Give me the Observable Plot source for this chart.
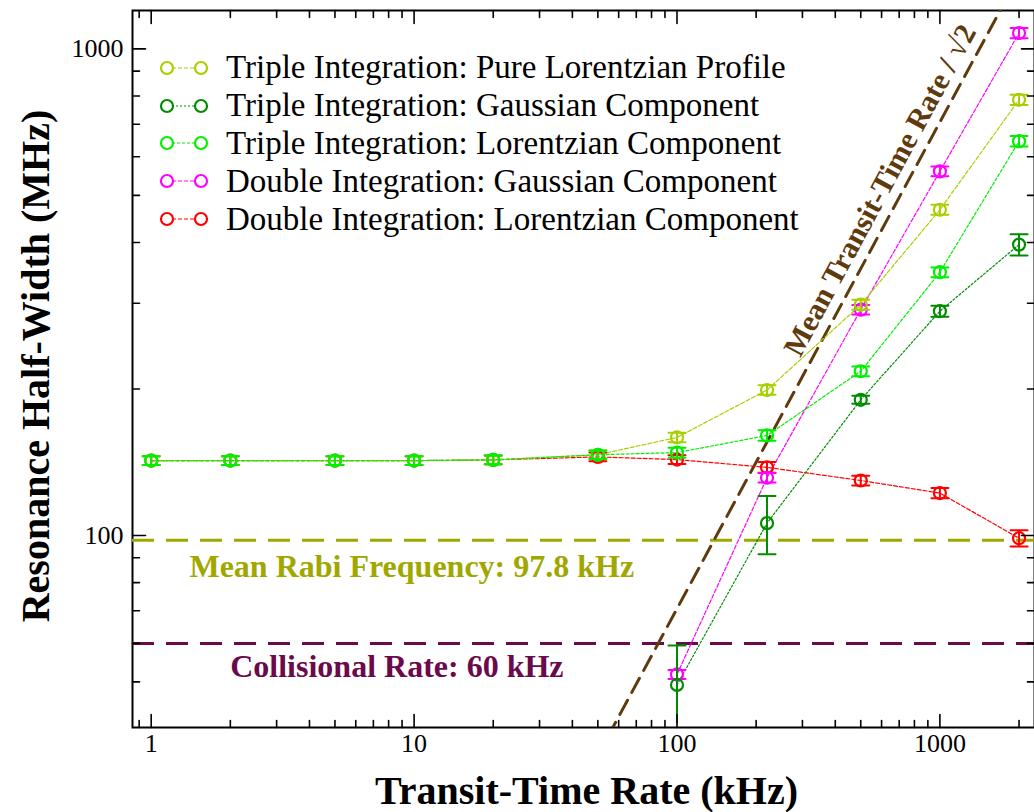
<!DOCTYPE html>
<html>
<head>
<meta charset="utf-8">
<script src="https://cdn.jsdelivr.net/npm/d3@7"></script>
<script src="https://cdn.jsdelivr.net/npm/@observablehq/plot@0.6"></script>
<style>
  html, body { margin: 0; padding: 0; background: #fff; }
  #wrap { position: relative; width: 1034px; height: 812px; overflow: hidden; font-family: "Liberation Serif", "DejaVu Serif", serif; }
  #legend { position: absolute; left: 158px; top: 49px; }
  .row { display: flex; align-items: center; height: 37.8px; font-size: 33px; color: #000; white-space: nowrap; }
  .row svg { margin-right: 14px; }
</style>
</head>
<body>
<div id="wrap"><div id="chart"></div><div id="legend"></div></div>
<script>
// ---- data ----
const rateAll = [1, 2, 5, 10, 20, 50, 100, 220, 500, 1000, 2000];
const rateHigh = [100, 220, 500, 1000, 2000];

const tripPureLor    = [142.5, 142.5, 142.5, 142.5, 143, 146.5, 159, 199, 298, 467, 786];
const tripPureLorErr = [3, 3, 3, 3, 3, 3, 3.5, 4.5, 7, 11, 19];
const tripGauss      = [49.3, 106, 190, 289, 396];
const tripGaussErr   = [10.1, 14.5, 3.6, 7.6, 20];
const tripLor        = [142.5, 142.5, 142.5, 142.5, 143, 146.5, 148, 160.5, 217.5, 347.5, 646];
const tripLorErr     = [3, 3, 3, 3, 3, 3, 3.5, 4, 5, 8, 16];
const dblGauss       = [51.8, 131.4, 291, 560, 1078];
const dblGaussErr    = [1.1, 3, 6.5, 13, 26];
const dblLor         = [142.5, 142.5, 142.5, 142.5, 143, 145, 143.2, 138, 129.7, 122.2, 98.7];
const dblLorErr      = [3, 3, 3, 3, 3, 3, 3, 3.5, 3, 3, 3.8];

const seriesNames = [
  "Triple Integration: Pure Lorentzian Profile",
  "Triple Integration: Gaussian Component",
  "Triple Integration: Lorentzian Component",
  "Double Integration: Gaussian Component",
  "Double Integration: Lorentzian Component"
];
const seriesColors = ["#a8d000", "#008c00", "#00f000", "#ff00ff", "#ff0000"];
const seriesDash = ["4,2", "2,2", "3,2", "4,2", "4,2"];

const rabiRate = 97.8;
const collisionRate = 60;
const transitX = [40, 2400];

const xMajor = [1, 10, 100, 1000];
const xMinor = [0.9, 2, 3, 4, 5, 6, 7, 8, 9, 20, 30, 40, 50, 60, 70, 80, 90, 200, 300, 400, 500, 600, 700, 800, 900, 2000];
const yMajor = [100, 1000];
const yMinor = [50, 60, 70, 80, 90, 200, 300, 400, 500, 600, 700, 800, 900];

// annotation anchor positions (data coordinates)
const rabiLabelPos = {x: 9.8, y: 86.3, text: "Mean Rabi Frequency: 97.8 kHz"};
const collLabelPos = {x: 8.6, y: 53.6, text: "Collisional Rate: 60 kHz"};
const transitLabelPos = {x: 592, y: 512, text: "Mean Transit-Time Rate / \u221A2"};

// ---- build table ----
function mk(name, xs, ys, es) {
  return xs.map((x, i) => ({series: name, x, y: ys[i], lo: ys[i] - es[i], hi: ys[i] + es[i]}));
}
const groups = [
  mk(seriesNames[4], rateAll, dblLor, dblLorErr),
  mk(seriesNames[3], rateHigh, dblGauss, dblGaussErr),
  mk(seriesNames[1], rateHigh, tripGauss, tripGaussErr),
  mk(seriesNames[0], rateAll, tripPureLor, tripPureLorErr),
  mk(seriesNames[2], rateAll, tripLor, tripLorErr)
];
const colorOf = n => seriesColors[seriesNames.indexOf(n)];
const dashOf = n => seriesDash[seriesNames.indexOf(n)];

const lineShape = {draw(ctx, l) { ctx.moveTo(0, 0); ctx.lineTo(0, -l); }};

const marks = [];
marks.push(Plot.frame({stroke: "black", strokeWidth: 2}));

// reference lines
marks.push(Plot.ruleY([rabiRate], {stroke: "#a0a800", strokeWidth: 3, strokeDasharray: "22,12"}));
marks.push(Plot.ruleY([collisionRate], {stroke: "#6b0a4a", strokeWidth: 3, strokeDasharray: "22,12"}));
marks.push(Plot.line(transitX.map(x => ({x, y: x / Math.SQRT2})), {x: "x", y: "y", stroke: "#5e3a0c", strokeWidth: 3, strokeDasharray: "16,9", clip: true}));

// series
for (const g of groups) {
  const c = colorOf(g[0].series);
  marks.push(Plot.line(g, {x: "x", y: "y", stroke: c, strokeWidth: 1.2, strokeDasharray: dashOf(g[0].series)}));
}
for (const g of groups) {
  const c = colorOf(g[0].series);
  marks.push(Plot.ruleX(g, {x: "x", y1: d => Math.max(d.lo, 41), y2: "hi", stroke: c, strokeWidth: 2}));
  marks.push(Plot.vector(g, {x: "x", y: "hi", length: 17, rotate: 90, anchor: "middle", shape: lineShape, stroke: c, strokeWidth: 2}));
  marks.push(Plot.vector(g.filter(d => d.lo > 41), {x: "x", y: "lo", length: 17, rotate: 90, anchor: "middle", shape: lineShape, stroke: c, strokeWidth: 2}));
  marks.push(Plot.dot(g, {x: "x", y: "y", r: 6, stroke: c, strokeWidth: 2.2, fill: "none"}));
}

// annotations
marks.push(Plot.text([rabiLabelPos], {x: "x", y: "y", text: "text", fill: "#a0a800", fontSize: 32, fontWeight: "bold"}));
marks.push(Plot.text([collLabelPos], {x: "x", y: "y", text: "text", fill: "#6b0a4a", fontSize: 32, fontWeight: "bold"}));
marks.push(Plot.text([transitLabelPos], {x: "x", y: "y", text: "text", fill: "#5e3a0c", fontSize: 30, fontWeight: "bold", rotate: -61.6}));

// inward ticks
const tk = (data, opts) => Plot.vector(data, {...opts, anchor: "start", shape: lineShape, stroke: "black", strokeWidth: 1.6});
marks.push(tk(xMajor, {x: d => d, frameAnchor: "bottom", length: 13, rotate: 0}));
marks.push(tk(xMinor, {x: d => d, frameAnchor: "bottom", length: 7, rotate: 0}));
marks.push(tk(xMajor, {x: d => d, frameAnchor: "top", length: 13, rotate: 180}));
marks.push(tk(xMinor, {x: d => d, frameAnchor: "top", length: 7, rotate: 180}));
marks.push(tk(yMajor, {y: d => d, frameAnchor: "left", length: 13, rotate: 90}));
marks.push(tk(yMinor, {y: d => d, frameAnchor: "left", length: 7, rotate: 90}));
marks.push(tk(yMajor, {y: d => d, frameAnchor: "right", length: 13, rotate: -90}));
marks.push(tk(yMinor, {y: d => d, frameAnchor: "right", length: 7, rotate: -90}));

// tick labels
marks.push(Plot.axisX({ticks: xMajor, tickSize: 0, tickPadding: 6, tickFormat: d => String(d), fontSize: 26, label: null}));
marks.push(Plot.axisY({ticks: yMajor, tickSize: 0, tickPadding: 9, tickFormat: d => String(d), fontSize: 26, label: null}));

// axis titles
marks.push(Plot.text(["Transit-Time Rate (kHz)"], {frameAnchor: "bottom", lineAnchor: "middle", textAnchor: "middle", dx: 3, dy: 64, fontSize: 40, fontWeight: "bold", fill: "black"}));
marks.push(Plot.text(["Resonance Half-Width (MHz)"], {frameAnchor: "left", lineAnchor: "middle", textAnchor: "middle", dx: -96, dy: -3, rotate: -90, fontSize: 40, fontWeight: "bold", fill: "black"}));

const chart = Plot.plot({
  width: 1034,
  height: 812,
  marginLeft: 132,
  marginRight: 0,
  marginTop: 10,
  marginBottom: 85,
  style: {fontFamily: "'Liberation Serif', 'DejaVu Serif', serif", background: "white", color: "black", overflow: "visible"},
  x: {type: "log", domain: [0.849, 2290]},
  y: {type: "log", domain: [40.3, 1199]},
  marks
});
document.getElementById("chart").appendChild(chart);

// legend
const legend = document.getElementById("legend");
seriesNames.forEach((name, i) => {
  const row = document.createElement("div");
  row.className = "row";
  const c = seriesColors[i];
  row.innerHTML = `<svg width="54" height="20" viewBox="0 0 54 20">
    <line x1="14" y1="10" x2="38" y2="10" stroke="${c}" stroke-width="1.2" stroke-dasharray="${seriesDash[i]}"/>
    <circle cx="9" cy="10" r="6" fill="none" stroke="${c}" stroke-width="2.2"/>
    <circle cx="43" cy="10" r="6" fill="none" stroke="${c}" stroke-width="2.2"/>
  </svg><span>${name}</span>`;
  legend.appendChild(row);
});
</script>
</body>
</html>
